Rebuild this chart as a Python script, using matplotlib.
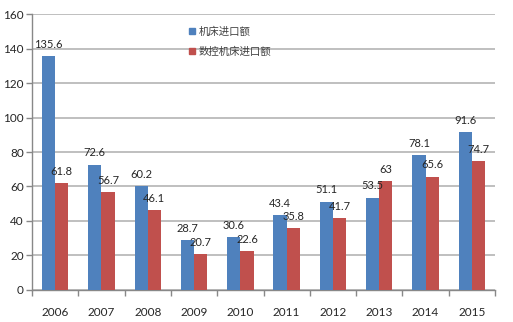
import matplotlib
matplotlib.use("Agg")
import matplotlib.pyplot as plt
from matplotlib.lines import Line2D
import numpy as np

plt.rcParams['font.family'] = ['Lato', 'Noto Sans CJK SC', 'DejaVu Sans']

years = ["2006", "2007", "2008", "2009", "2010", "2011", "2012", "2013", "2014", "2015"]
machine_tool_imports = [135.6, 72.6, 60.2, 28.7, 30.6, 43.4, 51.1, 53.5, 78.1, 91.6]
cnc_imports = [61.8, 56.7, 46.1, 20.7, 22.6, 35.8, 41.7, 63, 65.6, 74.7]
series_names = ["机床进口额", "数控机床进口额"]
yticks = [0, 20, 40, 60, 80, 100, 120, 140, 160]

blue = "#4F81BD"
red = "#C0504D"
grid_col = "#b4b4b4"
text_col = "#262626"

fig = plt.figure(figsize=(5.13, 3.22), dpi=100)
ax = fig.add_axes([0.0624, 0.0994, 0.9026, 0.8571])

x = np.arange(len(years))
w = 0.285
b1 = ax.bar(x - w / 2, machine_tool_imports, width=w, color=blue, zorder=3)
b2 = ax.bar(x + w / 2, cnc_imports, width=w, color=red, zorder=3)

for bars, vals in ((b1, machine_tool_imports), (b2, cnc_imports)):
    for r, v in zip(bars, vals):
        ax.annotate(f"{v:g}", (r.get_x() + r.get_width() / 2, v),
                    xytext=(0, 8.6), textcoords="offset points",
                    ha="center", va="center", fontsize=8, color=text_col, zorder=4)

ax.set_xlim(-0.5, len(years) - 0.5)
ax.set_ylim(0, 160)
ax.set_yticks(yticks)
ax.set_yticklabels([str(t) for t in yticks], fontsize=8.5, color=text_col)
ax.yaxis.grid(True, color=grid_col, linewidth=1.2, zorder=0)
ax.set_axisbelow(True)

ax.set_xticks(x)
ax.set_xticklabels(years, fontsize=8.5, color=text_col)
ax.tick_params(axis="x", length=0, pad=12)
ax.set_xticks(np.arange(-0.5, len(years)), minor=True)
ax.tick_params(axis="x", which="minor", length=4, color="#888888", width=1)
ax.tick_params(axis="y", length=4, color="#888888", width=1, pad=2)

for s in ("top", "right"):
    ax.spines[s].set_visible(False)
for s in ("left", "bottom"):
    ax.spines[s].set_color("#888888")
    ax.spines[s].set_linewidth(1)

handles = [Line2D([], [], marker="s", linestyle="none", markersize=4.5, color=c)
           for c in (blue, red)]
leg = ax.legend(handles, series_names, loc="upper left", bbox_to_anchor=(0.33, 0.97),
                frameon=False, fontsize=7.5, handlelength=0.6, handletextpad=0.3,
                labelspacing=0.9, borderaxespad=0)
for t in leg.get_texts():
    t.set_color("#404040")
    t.set_fontfamily(["Noto Sans CJK SC", "DejaVu Sans"])

fig.savefig("out.png", dpi=100)
